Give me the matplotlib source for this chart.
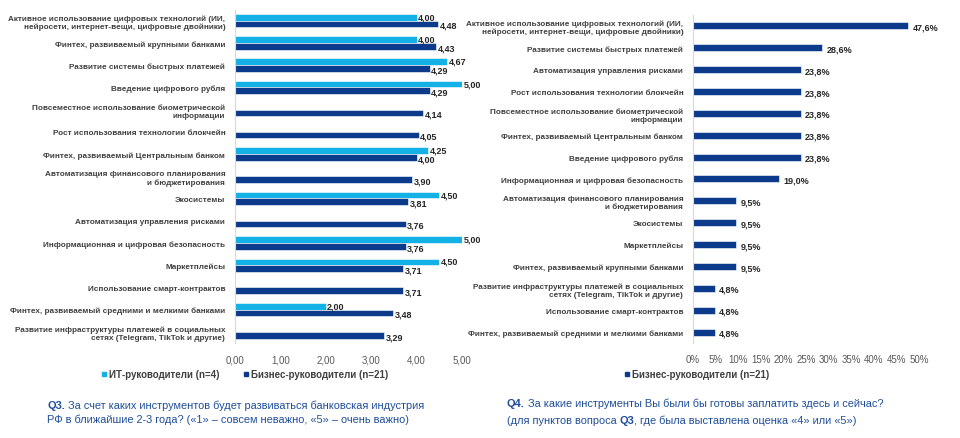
import matplotlib.pyplot as plt
from matplotlib.lines import Line2D
import numpy as np

plt.rcParams['font.family'] = ['Liberation Sans', 'DejaVu Sans']

# Q3 data (top to bottom)
q3_labels = [
    "Активное использование цифровых технологий (ИИ,\nнейросети, интернет-вещи, цифровые двойники)",
    "Финтех, развиваемый крупными банками",
    "Развитие системы быстрых платежей",
    "Введение цифрового рубля",
    "Повсеместное использование биометрической\nинформации",
    "Рост использования технологии блокчейн",
    "Финтех, развиваемый Центральным банком",
    "Автоматизация финансового планирования\nи бюджетирования",
    "Экосистемы",
    "Автоматизация управления рисками",
    "Информационная и цифровая безопасность",
    "Маркетплейсы",
    "Использование смарт-контрактов",
    "Финтех, развиваемый средними и мелкими банками",
    "Развитие инфраструктуры платежей в социальных\nсетях (Telegram, TikTok и другие)",
]
q3_it = [4.00, 4.00, 4.67, 5.00, None, None, 4.25, None, 4.50, None, 5.00, 4.50, None, 2.00, None]
q3_biz = [4.48, 4.43, 4.29, 4.29, 4.14, 4.05, 4.00, 3.90, 3.81, 3.76, 3.76, 3.71, 3.71, 3.48, 3.29]
q3_ticks = [0, 1, 2, 3, 4, 5]

# Q4 data (top to bottom)
q4_labels = [
    "Активное использование цифровых технологий (ИИ,\nнейросети, интернет-вещи, цифровые двойники)",
    "Развитие системы быстрых платежей",
    "Автоматизация управления рисками",
    "Рост использования технологии блокчейн",
    "Повсеместное использование биометрической\nинформации",
    "Финтех, развиваемый Центральным банком",
    "Введение цифрового рубля",
    "Информационная и цифровая безопасность",
    "Автоматизация финансового планирования\nи бюджетирования",
    "Экосистемы",
    "Маркетплейсы",
    "Финтех, развиваемый крупными банками",
    "Развитие инфраструктуры платежей в социальных\nсетях (Telegram, TikTok и другие)",
    "Использование смарт-контрактов",
    "Финтех, развиваемый средними и мелкими банками",
]
q4_biz = [47.6, 28.6, 23.8, 23.8, 23.8, 23.8, 23.8, 19.0, 9.5, 9.5, 9.5, 9.5, 4.8, 4.8, 4.8]
q4_ticks = [0, 5, 10, 15, 20, 25, 30, 35, 40, 45, 50]

CYAN = '#14B1E7'
NAVY = '#0C3B8C'
LABEL_C = '#404040'
TITLE_C = '#1F4E99'
VAL_C = '#262626'


def style_axes(ax):
    for s in ['top', 'right', 'bottom']:
        ax.spines[s].set_visible(False)
    ax.spines['left'].set_color('#D9D9D9')
    ax.tick_params(axis='both', length=0)
    ax.tick_params(axis='x', labelsize=7, labelcolor='#595959', pad=8)
    ax.tick_params(axis='y', labelsize=5.9, labelcolor=LABEL_C, pad=7)
    for t in ax.get_yticklabels():
        t.set_fontweight('bold')


def title_line(x, y, parts, size=7.95):
    # parts: list of (text, bold), drawn one after the other on one line
    t = fig.text(x, y, parts[0][0], fontsize=size, color=TITLE_C, ha='left', va='bottom',
                 fontweight='bold' if parts[0][1] else 'normal')
    for txt, bold in parts[1:]:
        t = fig.add_artist(plt.Annotation(txt, xy=(1, 0), xycoords=t, fontsize=size,
                                          color=TITLE_C, ha='left', va='bottom',
                                          fontweight='bold' if bold else 'normal'))


fig = plt.figure(figsize=(9.6, 4.39), dpi=100)

# left chart
ax1 = fig.add_axes([0.2448, 0.2164, 0.2365, 0.7596])
n = len(q3_labels)
y = np.arange(n)
h = 0.3
it_vals = [np.nan if v is None else v for v in q3_it]
ax1.barh(y - h / 2, it_vals, height=h, color=CYAN, edgecolor='white', linewidth=0.4)
ax1.barh(y + h / 2, q3_biz, height=h, color=NAVY, edgecolor='white', linewidth=0.4)
for i in range(n):
    if q3_it[i] is not None:
        ax1.text(q3_it[i] + 0.03, y[i] - h / 2 - 0.02, f"{q3_it[i]:.2f}".replace('.', ','),
                 va='center', ha='left', fontsize=6.5, fontweight='bold', color=VAL_C)
    ax1.text(q3_biz[i] + 0.03, y[i] + h / 2 + 0.06, f"{q3_biz[i]:.2f}".replace('.', ','),
             va='center', ha='left', fontsize=6.5, fontweight='bold', color=VAL_C)
ax1.set_xlim(0, 5)
ax1.set_ylim(n - 0.5, -0.5)
ax1.set_xticks(q3_ticks)
ax1.set_xticklabels([f"{t:.2f}".replace('.', ',') for t in q3_ticks])
ax1.set_yticks(y)
ax1.set_yticklabels(q3_labels)
style_axes(ax1)
h1 = [Line2D([], [], marker='s', color=CYAN, linestyle='none', markersize=3.5),
      Line2D([], [], marker='s', color=NAVY, linestyle='none', markersize=3.5)]
leg1 = fig.legend(h1, ["ИТ-руководители (n=4)", "Бизнес-руководители (n=21)"],
                  loc='center', bbox_to_anchor=(0.255, 0.146), ncol=2, frameon=False,
                  handlelength=0.6, handletextpad=0.2, columnspacing=2.5,
                  prop={'size': 7, 'weight': 'bold'})
for t in leg1.get_texts():
    t.set_color(LABEL_C)

# right chart
ax2 = fig.add_axes([0.7219, 0.2164, 0.2354, 0.7472])
y2 = np.arange(len(q4_labels))
ax2.barh(y2, q4_biz, height=0.32, color=NAVY, edgecolor='white', linewidth=0.4)
for i, v in enumerate(q4_biz):
    ax2.text(v + 1.0, y2[i] + 0.05, f"{v:.1f}".replace('.', ',') + '%',
             va='center', ha='left', fontsize=6.5, fontweight='bold', color=VAL_C)
ax2.set_xlim(0, 50)
ax2.set_ylim(len(q4_labels) - 0.5, -0.5)
ax2.set_xticks(q4_ticks)
ax2.set_xticklabels([f"{t}%" for t in q4_ticks])
ax2.set_yticks(y2)
ax2.set_yticklabels(q4_labels)
style_axes(ax2)
h2 = [Line2D([], [], marker='s', color=NAVY, linestyle='none', markersize=3.5)]
leg2 = fig.legend(h2, ["Бизнес-руководители (n=21)"],
                  loc='center', bbox_to_anchor=(0.726, 0.146), frameon=False,
                  handlelength=0.6, handletextpad=0.2,
                  prop={'size': 7, 'weight': 'bold'})
for t in leg2.get_texts():
    t.set_color(LABEL_C)

title_line(0.049, 0.064, [("Q3.", True), (" За счет каких инструментов будет развиваться банковская индустрия", False)])
title_line(0.049, 0.032, [("РФ в ближайшие 2-3 года? («1» – совсем неважно, «5» – очень важно)", False)])
title_line(0.528, 0.068, [("Q4.", True), (" За какие инструменты Вы были бы готовы заплатить здесь и сейчас?", False)])
title_line(0.528, 0.030, [("(для пунктов вопроса ", False), ("Q3", True),
                          (", где была выставлена оценка «4» или «5»)", False)])

fig.savefig("out.png", dpi=100)
